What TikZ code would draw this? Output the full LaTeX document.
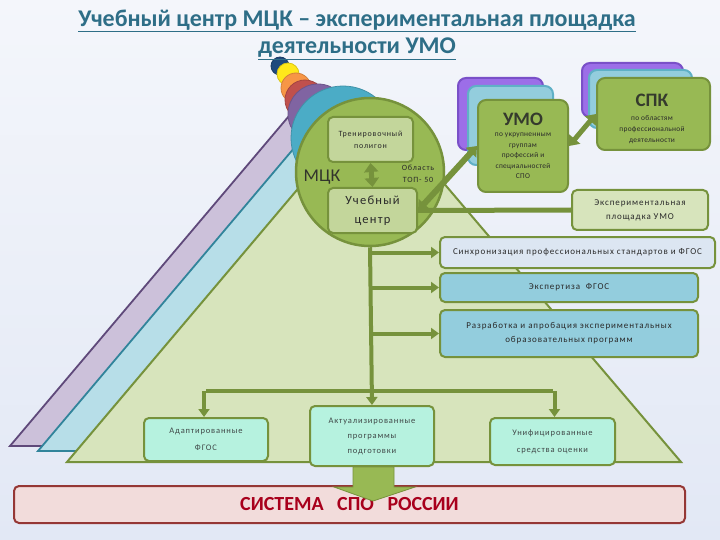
\documentclass[tikz,border=0pt]{standalone}
\usepackage{fontspec}
\setmainfont{Carlito}
\newfontfamily\lsf[LetterSpace=10]{Carlito}
\newfontfamily\lsg[LetterSpace=4]{Carlito}
\usetikzlibrary{arrows.meta}
\definecolor{gb}{HTML}{76923C}
\definecolor{gfill}{HTML}{98B954}
\definecolor{lgfill}{HTML}{C3D69B}
\definecolor{trifill}{HTML}{D7E4BC}
\definecolor{bluefill}{HTML}{B7DEE8}
\definecolor{blueb}{HTML}{31849B}
\definecolor{lilfill}{HTML}{CCC1DA}
\definecolor{lilb}{HTML}{5F497A}
\definecolor{cardpur}{HTML}{9C6EE8}
\definecolor{cardpurb}{HTML}{7A50C8}
\definecolor{cardblu}{HTML}{93CDDD}
\definecolor{cardblub}{HTML}{5FB0C6}
\definecolor{syncfill}{HTML}{DCE6F2}
\definecolor{aqfill}{HTML}{93CDDD}
\definecolor{mintfill}{HTML}{B6F2DF}
\definecolor{pinkfill}{HTML}{F2DCDB}
\definecolor{pinkb}{HTML}{953735}
\definecolor{redtxt}{HTML}{A8001C}
\definecolor{titlec}{HTML}{2E6E87}
\definecolor{txt}{HTML}{2A2A2A}
\definecolor{mtxt}{HTML}{404848}
\definecolor{c1}{HTML}{1F497D}
\definecolor{c2}{HTML}{FFE81A}
\definecolor{c3}{HTML}{F79646}
\definecolor{c4}{HTML}{C0504D}
\definecolor{c5}{HTML}{8064A2}
\definecolor{c6}{HTML}{4BACC6}
\definecolor{bgtop}{HTML}{F4F6FB}
\definecolor{bgmid}{HTML}{C8D5EE}
\definecolor{bgbot}{HTML}{E2E8F5}
\begin{document}
\begin{tikzpicture}[x=1pt,y=-1pt,
  box/.style={draw=gb, line width=2pt, rounded corners=5pt, inner sep=1pt, align=center, text=txt},
  card/.style={draw=gb, line width=2pt, rounded corners=8pt, fill=gfill, align=center, text=txt},
  backcard/.style={line width=2pt, rounded corners=8pt},
  tS/.style={font=\lsf\fontsize{8}{12}\selectfont},
  tM/.style={font=\lsf\fontsize{9}{14}\selectfont},
  conn/.style={draw=gb, line width=4pt},
  arr/.style={conn, -{Triangle[length=8pt,width=11pt]}},
  dbl/.style={draw=gb, line width=5pt, {Triangle[length=9pt,width=14pt]}-{Triangle[length=9pt,width=14pt]}},
  circ/.style={circle, line width=0.8pt, inner sep=0pt}
]
\useasboundingbox (0,0) rectangle (720,540);
\shade[top color=bgtop, middle color=bgmid, bottom color=bgbot] (0,0) rectangle (720,540);

% triangles
\draw[fill=lilfill, draw=lilb, line width=1.8pt] (10,446) -- (316,84) -- (624,446) -- cycle;
\draw[fill=bluefill, draw=blueb, line width=1.8pt] (38,451) -- (344,89) -- (652,451) -- cycle;
\draw[fill=trifill, draw=gb, line width=2pt] (67,462) -- (373,100) -- (681,462) -- cycle;

% cone of circles
\node[circ, fill=c1, draw=c1!80!black, minimum size=18pt] (k1) at (280,66) {};
\node[circ, fill=c2, draw=c2!85!black, minimum size=22pt] (k2) at (288,74) {};
\node[circ, fill=c3, draw=c3!85!black, minimum size=30pt] (k3) at (296,88) {};
\node[circ, fill=c4, draw=c4!85!black, minimum size=40pt] (k4) at (305,100) {};
\node[circ, fill=c5, draw=c5!85!black, minimum size=60pt] (k5) at (318,114) {};
\node[circ, fill=c6, draw=c6!85!black, minimum size=104pt] (k6) at (343,138) {};
\node[circle, fill=gfill, draw=gb, line width=2.5pt, minimum size=148pt, inner sep=0pt] (mck) at (370,172) {};

% title
\node[font=\bfseries\fontsize{24}{28}\selectfont, text=titlec] (t1) at (357,21) {\underline{Учебный центр МЦК – экспериментальная площадка}};
\node[font=\bfseries\fontsize{24}{28}\selectfont, text=titlec] (t2) at (357,49) {\underline{деятельности УМО}};

% inside circle
\node[box, fill=lgfill, minimum width=85pt, minimum height=45pt, tS] (trp) at (370.5,139.5) {Тренировочный\\полигон};
\node[box, fill=lgfill, minimum width=89pt, minimum height=45pt, font=\lsf\fontsize{12.5}{19}\selectfont] (uc) at (372.5,210.5) {Учебный\\центр};
\node[font=\fontsize{18}{20}\selectfont, text=txt!90!gb] (mcktxt) at (322,177) {МЦК};
\node[tS, align=center, text=txt] (top50) at (418,174) {Область\\ТОП- 50};

% UMO stack
\draw[backcard, fill=cardpur, draw=cardpurb] (458,78) rectangle (543,150);
\draw[backcard, fill=cardblu, draw=cardblub] (468,86) rectangle (553,165);
\node[card, minimum width=90pt, minimum height=92pt] (umo) at (523,146) {};
\node[font=\bfseries\fontsize{19}{20}\selectfont, text=txt!85!gb] (umot) at (523,119) {УМО};
\node[font=\lsg\fontsize{7.4}{10.5}\selectfont, align=center, text=txt] (umos) at (523,156) {по укрупненным\\группам\\профессий и\\специальностей\\СПО};

% SPK stack
\draw[backcard, fill=cardpur, draw=cardpurb] (582,63) rectangle (683,117);
\draw[backcard, fill=cardblu, draw=cardblub] (589,70) rectangle (692,128);
\node[card, minimum width=113pt, minimum height=72pt] (spk) at (653.5,114) {};
\node[font=\bfseries\fontsize{19}{20}\selectfont, text=txt!85!gb] (spkt) at (652,100) {СПК};
\node[font=\lsg\fontsize{7.4}{11}\selectfont, align=center, text=txt] (spks) at (652,129.5) {по областям\\профессиональной\\деятельности};

% right boxes
\node[box, fill=trifill, minimum width=136pt, minimum height=40pt, tM] (exp) at (640,210) {Экспериментальная\\площадка УМО};
\node[box, fill=syncfill, minimum width=275pt, minimum height=31pt, tM] (sync) at (577.5,252.5) {Синхронизация профессиональных стандартов и ФГОС};
\node[box, fill=aqfill, minimum width=258pt, minimum height=29pt, tM] (expert) at (569,287.5) {Экспертиза \ ФГОС};
\node[box, fill=aqfill, minimum width=258pt, minimum height=47pt, tM] (razr) at (569,333.5) {Разработка и апробация экспериментальных\\образовательных программ};

% bottom boxes
\node[box, fill=mintfill, minimum width=124pt, minimum height=43pt, text=mtxt, font=\lsf\fontsize{8.5}{17}\selectfont] (adapt) at (206,439.5) {Адаптированные\\ФГОС};
\node[box, fill=mintfill, minimum width=124pt, minimum height=60pt, text=mtxt, font=\lsf\fontsize{8.5}{15}\selectfont] (actual) at (372,436) {Актуализированные\\программы\\подготовки};
\node[box, fill=mintfill, minimum width=125pt, minimum height=47pt, text=mtxt, font=\lsf\fontsize{8.5}{17}\selectfont] (unif) at (552.5,441.5) {Унифицированные\\средства оценки};

% system box
\node[draw=pinkb, line width=2pt, fill=pinkfill, rounded corners=5pt, minimum width=671pt, minimum height=37pt, text=redtxt, font=\bfseries\fontsize{20}{24}\selectfont] (sys) at (349.5,504.5) {СИСТЕМА\ \ \ СПО\ \ \ РОССИИ};

% block arrow down
\draw[fill=gfill, draw=gb, line width=0.8pt] (353,467) -- (394,467) -- (394,487) -- (415,487) -- (373,501) -- (334,487) -- (353,487) -- cycle;

% connectors
\draw[dbl] (trp.south) -- (uc.north);
\draw[dbl, line width=6pt] (uc.east) -- (umo.west);
\draw[dbl] (umo.east) -- (spk.west);
\draw[conn, line width=5pt] (uc.east) -- (exp.west);

\coordinate (bar) at (371,391);
\draw[arr] (mck.south) -- (actual.north);
\draw[arr] (mck.south |- sync.west) -- (sync.west);
\draw[arr] (mck.south |- expert.west) -- (expert.west);
\draw[arr] (mck.south |- razr.west) -- (razr.west);
\draw[conn] (adapt.north |- bar) -- (unif.north |- bar);
\draw[arr] ([xshift=-2pt]adapt.north |- bar) -- ([xshift=-2pt]adapt.north);
\draw[arr] ([xshift=2pt]unif.north |- bar) -- ([xshift=2pt]unif.north);
\end{tikzpicture}
\end{document}
